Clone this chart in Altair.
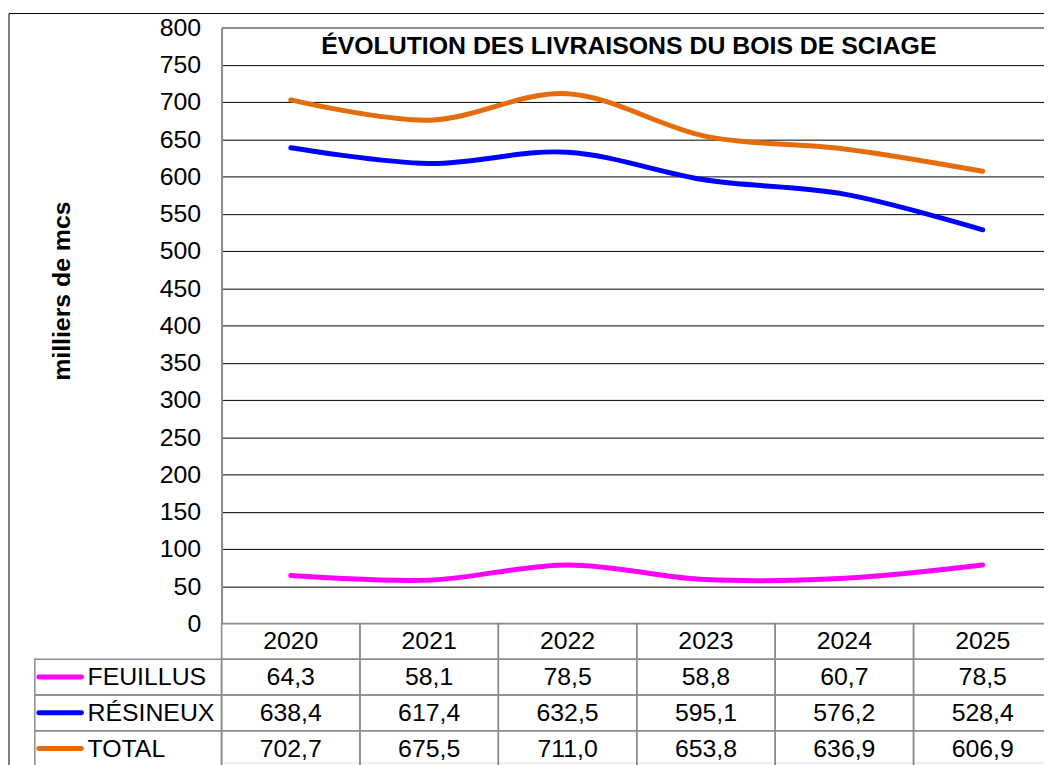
import altair as alt
import pandas as pd

# ---- data ----
years = ["2020", "2021", "2022", "2023", "2024", "2025"]
series = ["FEUILLUS", "RÉSINEUX", "TOTAL"]
feuillus = [64.3, 58.1, 78.5, 58.8, 60.7, 78.5]
resineux = [638.4, 617.4, 632.5, 595.1, 576.2, 528.4]
total = [702.7, 675.5, 711.0, 653.8, 636.9, 606.9]
colors = ["#FF00FF", "#0000FF", "#E46C0A"]
y_ticks = list(range(0, 801, 50))
chart_title = "ÉVOLUTION DES LIVRAISONS DU BOIS DE SCIAGE"
y_title = "milliers de mcs"
header_key = "ANNÉE"

values = {"FEUILLUS": feuillus, "RÉSINEUX": resineux, "TOTAL": total}


def fmt(v):
    return f"{v:.1f}".replace(".", ",")


long_df = pd.DataFrame(
    [{"serie": s, "annee": y, "valeur": v} for s in series for y, v in zip(years, values[s])]
)
cells_df = pd.DataFrame(
    [{"row": header_key, "annee": y, "texte": y} for y in years]
    + [{"row": s, "annee": y, "texte": fmt(v)} for s in series for y, v in zip(years, values[s])]
)
legend_df = pd.DataFrame({"row": series, "serie": series})
frame_df = pd.DataFrame({"k": [0]})

# ---- layout ----
W = 828          # visible plot width (clipped at the window edge)
PLOT_W = 836     # full plot width as in the original
H = 740
rows = [header_key] + series

x_band = alt.Scale(type="band", domain=years, range=[0, PLOT_W], paddingInner=0, paddingOuter=0)
y_band = alt.Scale(type="band", domain=rows, range=[600, 744], paddingInner=0, paddingOuter=0)
color_scale = alt.Scale(domain=series, range=colors)
FONT = "Liberation Sans"
GRID_GRAY = "#8c8c8c"

frame = alt.Chart(frame_df).mark_rect(fillOpacity=0, stroke="black", strokeWidth=1).encode(
    x=alt.value(-214), x2=alt.value(1000), y=alt.value(-14), y2=alt.value(1000)
)

lines = alt.Chart(long_df).mark_line(
    interpolate="cardinal", strokeWidth=5, strokeCap="round", strokeJoin="round"
).encode(
    x=alt.X("annee:N", scale=alt.Scale(type="point", domain=years, range=[0, PLOT_W], padding=0.5), axis=None),
    y=alt.Y(
        "valeur:Q",
        scale=alt.Scale(domain=[0, 800], range=[600, 0], nice=False),
        axis=alt.Axis(
            values=y_ticks,
            title=y_title,
            titleFontSize=25,
            titleFontWeight="bold",
            titleFont=FONT,
            titleColor="black",
            titleAngle=270,
            titleX=-161,
            titleY=265,
            titleAlign="center",
            titleBaseline="middle",
            labelFontSize=25,
            labelFont=FONT,
            labelColor="black",
            labelPadding=21,
            labelOverlap=False,
            ticks=False,
            tickSize=0,
            domainColor=GRID_GRAY,
            domainWidth=2,
            grid=True,
            gridColor={"condition": {"test": "datum.value === 800 || datum.value === 0", "value": GRID_GRAY}, "value": "#000000"},
            gridWidth={"condition": {"test": "datum.value === 800", "value": 2}, "value": 1},
        ),
    ),
    color=alt.Color("serie:N", scale=color_scale, legend=None),
)

cell_rects = alt.Chart(cells_df).mark_rect(fill="white", fillOpacity=0, stroke=GRID_GRAY, strokeWidth=1.5).encode(
    x=alt.X("annee:N", scale=x_band, axis=None),
    y=alt.Y("row:N", scale=y_band, axis=None),
)

label_rects = alt.Chart(legend_df).mark_rect(fill="white", fillOpacity=0, stroke=GRID_GRAY, strokeWidth=1.5).encode(
    x=alt.value(-188), x2=alt.value(0),
    y=alt.Y("row:N", scale=y_band, axis=None),
)

table_text = alt.Chart(cells_df).mark_text(fontSize=25, font=FONT, color="black", align="center", baseline="middle").encode(
    x=alt.X("annee:N", scale=x_band, axis=None),
    y=alt.Y("row:N", scale=y_band, axis=None),
    text="texte:N",
)

swatches = alt.Chart(legend_df).mark_rule(strokeWidth=5, strokeCap="round").encode(
    x=alt.value(-184), x2=alt.value(-141),
    y=alt.Y("row:N", scale=y_band, axis=None),
    color=alt.Color("serie:N", scale=color_scale, legend=None),
)

legend_text = alt.Chart(legend_df).mark_text(fontSize=25, font=FONT, color="black", align="left", baseline="middle").encode(
    x=alt.value(-135),
    y=alt.Y("row:N", scale=y_band, axis=None),
    text="serie:N",
)

chart = alt.layer(
    frame, cell_rects, label_rects, lines, table_text, swatches, legend_text
).resolve_scale(
    x="independent", y="independent"
).properties(
    width=W,
    height=H,
    padding={"left": 215, "top": 17, "right": 0, "bottom": 0},
    autosize=alt.AutoSizeParams(type="none"),
    title=alt.TitleParams(
        chart_title, fontSize=25, fontWeight="bold", font=FONT, color="black",
        anchor="middle", frame="group", baseline="alphabetic", offset=0, dy=66.5, dx=-4,
    ),
).configure_view(stroke=None).configure(font=FONT)

chart.save("out.html", embed_options={"renderer": "svg", "actions": False})
